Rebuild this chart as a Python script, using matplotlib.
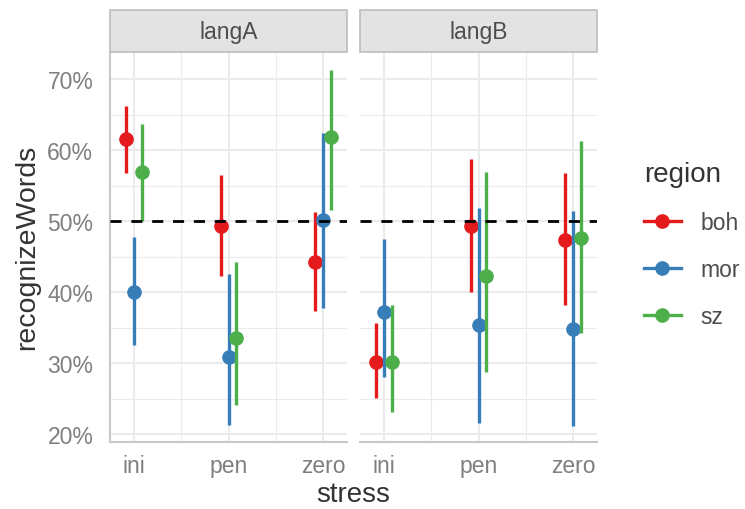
import matplotlib
matplotlib.use("Agg")
import matplotlib.pyplot as plt
from matplotlib.lines import Line2D
from matplotlib.patches import Rectangle
from matplotlib.ticker import FixedLocator, FuncFormatter

plt.rcParams['font.family'] = ['Liberation Sans', 'DejaVu Sans']

# data (percent)
panels = ["langA", "langB"]
stress = ["ini", "pen", "zero"]
regions = ["boh", "mor", "sz"]
colors = {"boh": "#E41A1C", "mor": "#377EB8", "sz": "#4DAF4A"}

mean = {
    "langA": {"boh": [61.6, 49.3, 44.3], "mor": [40.0, 30.9, 50.1], "sz": [56.9, 33.5, 61.9]},
    "langB": {"boh": [30.1, 49.3, 47.3], "mor": [37.2, 35.4, 34.8], "sz": [30.2, 42.2, 47.6]},
}
upper = {
    "langA": {"boh": [66.2, 56.5, 51.3], "mor": [47.8, 42.5, 62.4], "sz": [63.6, 44.2, 71.2]},
    "langB": {"boh": [35.6, 58.8, 56.8], "mor": [47.5, 51.9, 51.4], "sz": [38.2, 56.9, 61.3]},
}
lower = {
    "langA": {"boh": [56.8, 42.3, 37.3], "mor": [32.6, 21.3, 37.8], "sz": [50.0, 24.1, 51.5]},
    "langB": {"boh": [25.1, 40.0, 38.2], "mor": [28.0, 21.6, 21.1], "sz": [23.1, 28.7, 34.3]},
}

W, H = 745, 510
fig = plt.figure(figsize=(W / 100, H / 100), dpi=100)

tick_col = "#7F7F7F"
grid_col = "#EBEBEB"
dodge = [-0.0833, 0.0, 0.0833]

panel_x = [(110, 347), (360, 597)]
top, bottom = 53, 443

for p, (x0, x1) in zip(panels, panel_x):
    ax = fig.add_axes([x0 / W, 1 - bottom / H, (x1 - x0) / W, (bottom - top) / H])
    ax.set_xlim(-0.25, 2.25)
    ax.set_ylim(18.9, 73.8)
    ax.yaxis.set_major_locator(FixedLocator([20, 30, 40, 50, 60, 70]))
    ax.yaxis.set_minor_locator(FixedLocator([25, 35, 45, 55, 65]))
    ax.xaxis.set_major_locator(FixedLocator([0, 1, 2]))
    ax.xaxis.set_minor_locator(FixedLocator([0.5, 1.5]))
    ax.set_xticklabels(stress)
    ax.grid(which="major", color=grid_col, lw=1.5, zorder=0)
    ax.grid(which="minor", color=grid_col, lw=0.8, zorder=0)
    ax.set_axisbelow(True)
    for s in ["top", "right", "left"]:
        ax.spines[s].set_visible(False)
    ax.spines["bottom"].set_color("#C8C8C8")
    ax.spines["bottom"].set_linewidth(1.5)
    ax.tick_params(axis="x", which="both", length=0, labelsize=16.5, labelcolor=tick_col, pad=9)
    ax.tick_params(axis="y", which="both", length=0, labelsize=16.5, labelcolor=tick_col, pad=12)
    if p == "langA":
        ax.spines["left"].set_visible(True)
        ax.spines["left"].set_color("#C8C8C8")
        ax.spines["left"].set_linewidth(1.5)
        ax.yaxis.set_major_formatter(FuncFormatter(lambda v, _: f"{v:.0f}%"))
    else:
        ax.set_yticklabels([])

    ax.axhline(50, color="black", lw=2, ls=(0, (4, 3.5)), zorder=4)

    for r, d in zip(regions, dodge):
        xs = [i + d for i in range(len(stress))]
        ax.vlines(xs, lower[p][r], upper[p][r], color=colors[r], lw=2.4, zorder=3)
        ax.plot(xs, mean[p][r], "o", color=colors[r], ms=9.5, zorder=3)

    # facet strip
    fig.patches.append(Rectangle((x0 / W, 1 - 53 / H), (x1 - x0) / W, 42 / H,
                                 transform=fig.transFigure, facecolor="#E3E3E3",
                                 edgecolor="#BDBDBD", lw=1.2))
    fig.text((x0 + x1) / 2 / W, 1 - 32 / H, p, ha="center", va="center",
             fontsize=16.5, color="#4D4D4D")

fig.text(27 / W, 1 - 247 / H, "recognizeWords", rotation=90, ha="center", va="center",
         fontsize=20.5, color="#333333")
fig.text(353 / W, 1 - 495 / H, "stress", ha="center", va="center",
         fontsize=20, color="#333333")

handles = [Line2D([0], [0], color=colors[r], lw=2.4, marker="o", ms=9.5) for r in regions]
leg = fig.legend(handles, regions, loc="upper left", bbox_to_anchor=(644 / W, 1 - 162 / H),
                 frameon=False, fontsize=16.5, title="region", title_fontsize=20,
                 handlelength=1.6, handletextpad=0.85, labelspacing=1.05, borderpad=0,
                 borderaxespad=0)
leg._legend_box.align = "left"
for t in leg.get_texts():
    t.set_color("#4D4D4D")
leg.get_title().set_color("#333333")

fig.savefig("out.png", dpi=100)
